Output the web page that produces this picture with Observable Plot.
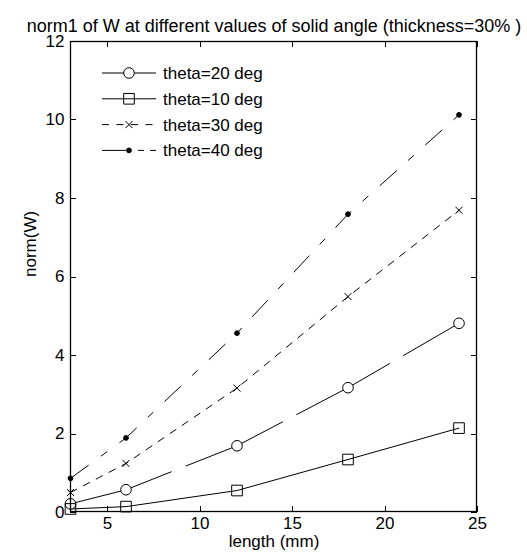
<!DOCTYPE html>
<html><head><meta charset="utf-8">
<script src="https://cdn.jsdelivr.net/npm/d3@7"></script>
<script src="https://cdn.jsdelivr.net/npm/@observablehq/plot@0.6"></script>
<style>body{margin:0;background:#fff}</style>
</head><body><div id="chart"></div>
<script>
const lengths = [3, 6, 12, 18, 24];
const theta20 = [0.22, 0.58, 1.70, 3.18, 4.82];
const theta10 = [0.09, 0.15, 0.56, 1.35, 2.15];
const theta30 = [0.51, 1.25, 3.17, 5.50, 7.70];
const theta40 = [0.87, 1.90, 4.57, 7.60, 10.13];
const seriesNames = ["theta=20 deg", "theta=10 deg", "theta=30 deg", "theta=40 deg"];
const seriesValues = [theta20, theta10, theta30, theta40];
const xTicks = [5, 10, 15, 20, 25];
const yTicks = [0, 2, 4, 6, 8, 10, 12];
const titleText = "norm1 of W at different values of solid angle (thickness=30% )";
const xLabel = "length (mm)";
const yLabel = "norm(W)";

// styles (kept separate from data)
const seriesStyles = [
  {symbol: "circle", dash: "106,16", legendDash: null, r: 5.3, fill: "white", d3sym: d3.symbolCircle},
  {symbol: "square", dash: null, legendDash: null, r: 6, fill: "none", d3sym: d3.symbolSquare},
  {symbol: "times", dash: "7,7.5", legendDash: "7,7.5", r: 3.3, fill: "none", d3sym: d3.symbolTimes},
  {symbol: "circle", dash: "22,16,7,16", legendDash: "24,12,6,6,6,20", r: 2.4, fill: "black", d3sym: d3.symbolCircle}
];
const FONT = "Arial, 'Liberation Sans', sans-serif";
const FS = 17;

const rows = seriesNames.flatMap((name, i) =>
  lengths.map((len, j) => ({series: name, length: len, value: seriesValues[i][j]})));

function frameTicks(index, scales, values, dims) {
  const {x, y} = scales;
  const l = dims.marginLeft, r = dims.width - dims.marginRight;
  const t = dims.marginTop, b = dims.height - dims.marginBottom;
  const g = d3.create("svg:g").attr("stroke", "black").attr("fill", "none");
  const tl = 6;
  xTicks.forEach(v => {
    const px = Math.round(x(v)) + 0.5;
    g.append("line").attr("x1", px).attr("x2", px).attr("y1", b).attr("y2", b - tl);
    g.append("line").attr("x1", px).attr("x2", px).attr("y1", t).attr("y2", t + tl);
  });
  yTicks.forEach(v => {
    const py = Math.round(y(v)) + 0.5;
    g.append("line").attr("x1", l).attr("x2", l + tl).attr("y1", py).attr("y2", py);
    g.append("line").attr("x1", r).attr("x2", r - tl).attr("y1", py).attr("y2", py);
  });
  g.append("rect").attr("x", l + 0.5).attr("y", t + 0.5).attr("width", r - l - 1).attr("height", b - t - 1)
    .attr("stroke-width", 1.3);
  return g.node();
}

function legend(index, scales, values, dims) {
  const l = dims.marginLeft, t = dims.marginTop;
  const g = d3.create("svg:g");
  seriesNames.forEach((name, i) => {
    const st = seriesStyles[i];
    const cy = t + 32 + i * 25.8;
    g.append("line").attr("x1", l + 32).attr("x2", l + 86).attr("y1", cy).attr("y2", cy)
      .attr("stroke", "black").attr("stroke-width", 1)
      .attr("stroke-dasharray", st.legendDash);
    g.append("path").attr("d", d3.symbol(st.d3sym, Math.PI * st.r * st.r)())
      .attr("transform", `translate(${l + 59},${cy})`)
      .attr("stroke", "black").attr("stroke-width", 1)
      .attr("fill", st.fill);
    g.append("text").attr("x", l + 93).attr("y", cy).attr("dy", "0.35em")
      .attr("text-anchor", "start")
      .attr("font-family", FONT).attr("font-size", FS).attr("fill", "black")
      .text(name);
  });
  return g.node();
}

const marks = [];
seriesNames.forEach((name, i) => {
  const st = seriesStyles[i];
  const data = rows.filter(d => d.series === name);
  marks.push(Plot.line(data, {x: "length", y: "value", stroke: "black", strokeWidth: 1,
    strokeDasharray: st.dash || undefined}));
});
seriesNames.forEach((name, i) => {
  const st = seriesStyles[i];
  const data = rows.filter(d => d.series === name);
  marks.push(Plot.dot(data, {x: "length", y: "value", symbol: st.symbol, r: st.r,
    stroke: "black", strokeWidth: 1, fill: st.fill}));
});
marks.push(frameTicks);
marks.push(legend);
marks.push(Plot.text(xTicks, {x: d => d, frameAnchor: "bottom", dy: 16, text: d => String(d),
  fontSize: FS, fill: "black"}));
marks.push(Plot.text(yTicks, {y: d => d, frameAnchor: "left", dx: -6, textAnchor: "end",
  text: d => String(d), fontSize: FS, fill: "black"}));
marks.push(Plot.text([titleText], {frameAnchor: "top", dy: -22, text: d => d, fontSize: 18, fill: "black"}));
marks.push(Plot.text([xLabel], {frameAnchor: "bottom", dy: 34, text: d => d, fontSize: FS, fill: "black"}));
marks.push(Plot.text([yLabel], {frameAnchor: "left", dx: -40, rotate: -90, text: d => d, fontSize: FS, fill: "black"}));

const chart = Plot.plot({
  width: 527,
  height: 560,
  marginLeft: 70,
  marginRight: 50,
  marginTop: 41,
  marginBottom: 48,
  style: {fontFamily: FONT, background: "white", color: "black"},
  x: {domain: [3, 25], axis: null},
  y: {domain: [0, 12], axis: null},
  marks
});
document.getElementById("chart").appendChild(chart);
</script>
</body></html>
